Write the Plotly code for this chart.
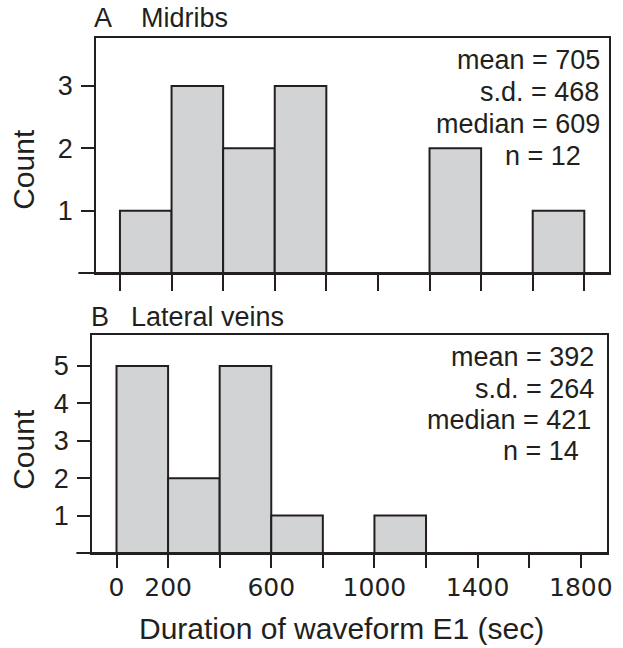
import plotly.graph_objects as go

# ---- data ----
bin_left_edges = [0, 200, 400, 600, 800, 1000, 1200, 1400, 1600]
bin_width = 200
midrib_counts = [1, 3, 2, 3, 0, 0, 2, 0, 1]
lateral_counts = [5, 2, 5, 1, 0, 1, 0, 0, 0]
midrib_stats = ["mean = 705", "s.d. = 468", "median = 609", "n = 12"]
lateral_stats = ["mean = 392", "s.d. = 264", "median = 421", "n = 14"]
x_tickvals = [0, 200, 400, 600, 800, 1000, 1200, 1400, 1600, 1800]
x_ticktext = ["0", "200", "", "600", "", "1000", "", "1400", "", "1800"]
midrib_yticks = [1, 2, 3]
lateral_yticks = [1, 2, 3, 4, 5]

W, H = 623, 648
INK = "#231f20"
FILL = "#d2d3d5"
FONT = "Liberation Sans"
TICKFONT_X = "DejaVu Sans"

def px(x):
    return x / W

def py(y):
    return 1 - y / H

centers = [e + bin_width / 2 for e in bin_left_edges]

fig = go.Figure()
fig.add_trace(go.Bar(x=centers, y=midrib_counts, width=bin_width,
                     marker=dict(color=FILL, line=dict(color=INK, width=2)),
                     xaxis="x", yaxis="y", showlegend=False, hoverinfo="skip"))
fig.add_trace(go.Bar(x=centers, y=lateral_counts, width=bin_width,
                     marker=dict(color=FILL, line=dict(color=INK, width=2)),
                     xaxis="x2", yaxis="y2", showlegend=False, hoverinfo="skip"))

axis_common = dict(showline=True, mirror=True, linecolor=INK, linewidth=2,
                   showgrid=False, zeroline=False, ticks="outside",
                   tickcolor=INK, tickwidth=2)
yfont = dict(family=FONT, size=27, color=INK)
xfont = dict(family=TICKFONT_X, size=25, color=INK)

fig.update_layout(
    width=W, height=H,
    margin=dict(l=0, r=0, t=0, b=0),
    paper_bgcolor="white", plot_bgcolor="white",
    bargap=0,
    xaxis=dict(domain=[px(97), px(614)], range=[-92, 1896], anchor="y",
               tickvals=x_tickvals, showticklabels=False, ticklen=16,
               tickfont=xfont, **axis_common),
    yaxis=dict(domain=[py(273), py(38)], range=[0, 3.77], anchor="x",
               tickvals=midrib_yticks, ticklen=13, ticklabelstandoff=3,
               tickfont=yfont, **axis_common),
    xaxis2=dict(domain=[px(93), px(612)], range=[-94, 1902], anchor="y2",
                tickvals=x_tickvals, ticktext=x_ticktext, ticklen=13,
                ticklabelstandoff=-2, tickfont=xfont, **axis_common),
    yaxis2=dict(domain=[py(553), py(335)], range=[0, 5.83], anchor="x2",
                tickvals=lateral_yticks, ticklen=13, ticklabelstandoff=3,
                tickfont=yfont, **axis_common),
)

# extended baseline on the left of each box
for yref, x0, x1 in [("y domain", 79, 614), ("y2 domain", 77, 612)]:
    fig.add_shape(type="line", xref="paper", yref=yref, x0=px(x0), x1=px(x1),
                  y0=0, y1=0, line=dict(color=INK, width=2))

ann = []
def text(x, y, s, size, xanchor="left", angle=0):
    ann.append(dict(x=px(x), y=py(y), xref="paper", yref="paper", text=s,
                    showarrow=False, xanchor=xanchor, yanchor="middle",
                    textangle=angle, font=dict(family=FONT, size=size, color=INK)))

# panel titles
text(93, 18, "A", 27)
text(140, 18, "Midribs", 27)
text(90, 317, "B", 27)
text(130, 317, "Lateral veins", 27)

# stats
top_y = [60, 92, 124, 156]
top_x = [607, 606, 607, 588]
for s, x, y in zip(midrib_stats, top_x, top_y):
    text(x, y, s, 27, xanchor="right")
bot_y = [357, 389, 420, 451]
bot_x = [601, 601, 598, 586]
for s, x, y in zip(lateral_stats, bot_x, bot_y):
    text(x, y, s, 27, xanchor="right")

# axis titles
text(24, 169, "Count", 30, xanchor="center", angle=-90)
text(23, 449, "Count", 30, xanchor="center", angle=-90)
text(344, 628, "Duration of waveform E1 (sec)", 30, xanchor="center")

fig.update_layout(annotations=ann)
fig.write_html("out.html",
               config={"displayModeBar": False, "staticPlot": True},
               post_script="document.body.style.margin='0';"
                           "document.body.style.overflow='hidden';")
